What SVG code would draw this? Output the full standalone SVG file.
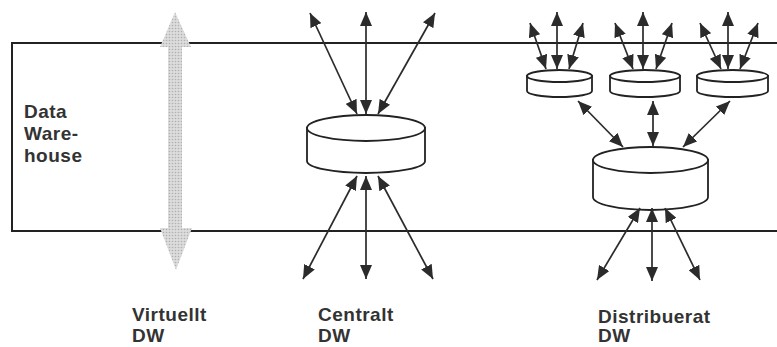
<svg xmlns="http://www.w3.org/2000/svg" width="777" height="347" viewBox="0 0 777 347">
<defs>
<marker id="ah" markerUnits="userSpaceOnUse" markerWidth="15" markerHeight="12" refX="14" refY="6" orient="auto-start-reverse" viewBox="0 0 15 12">
<path d="M0,0 L14,6 L0,12 z" fill="#2b2b2b"/>
</marker>
<pattern id="dots" width="3" height="3" patternUnits="userSpaceOnUse">
<rect width="3" height="3" fill="#dcdcdc"/>
<circle cx="1.5" cy="1.5" r="0.8" fill="#b0b0b0"/>
</pattern>
</defs>
<style>
.frame{fill:none;stroke:#222;stroke-width:2}
.cyl{fill:#fff;stroke:#222;stroke-width:1.8}
.con{stroke:#2b2b2b;stroke-width:1.7;fill:none;marker-start:url(#ah);marker-end:url(#ah)}
.lbl{font-family:"Liberation Sans",Arial,sans-serif;font-weight:bold;font-size:19px;fill:#333;letter-spacing:0.5px}
</style>
<rect width="777" height="347" fill="#fff"/>
<g id="datawarehouse">
<path class="frame" d="M777,43 H12 V231 H777"/>
<text class="lbl" x="24" y="118">Data</text>
<text class="lbl" x="24" y="140">Ware-</text>
<text class="lbl" x="24" y="162">house</text>
</g>
<g id="virtuellt">
<polygon fill="url(#dots)" points="175,12 191,47 182,47 182,228 192,228 176,270 160,228 168,228 168,47 160,47"/>
<text class="lbl" x="132" y="321">Virtuellt</text>
<text class="lbl" x="132" y="342">DW</text>
</g>
<g id="centralt">
<path class="cyl" d="M307,128 V161 A59,12 0 0 0 425,161 V128 z"/>
<ellipse class="cyl" cx="366" cy="128" rx="59" ry="13"/>
<text class="lbl" x="318" y="321">Centralt</text>
<text class="lbl" x="318" y="342">DW</text>
</g>
<g id="dist-small-1">
<path class="cyl" d="M527,76 V91 A32.5,6 0 0 0 592,91 V76 z"/>
<ellipse class="cyl" cx="559.5" cy="76" rx="32.5" ry="6"/>
</g>
<g id="dist-small-2">
<path class="cyl" d="M610,76 V91 A35,6 0 0 0 680,91 V76 z"/>
<ellipse class="cyl" cx="645" cy="76" rx="35" ry="6"/>
</g>
<g id="dist-small-3">
<path class="cyl" d="M697,76 V91 A35.5,6 0 0 0 768,91 V76 z"/>
<ellipse class="cyl" cx="732.5" cy="76" rx="35.5" ry="6"/>
</g>
<g id="dist-main">
<path class="cyl" d="M593,160 V197 A57.5,13 0 0 0 708,197 V160 z"/>
<ellipse class="cyl" cx="650.5" cy="160" rx="57.5" ry="13"/>
<text class="lbl" x="598" y="323">Distribuerat</text>
<text class="lbl" x="598" y="342">DW</text>
</g>
<g id="connectors">
<line class="con" x1="310" y1="13" x2="357" y2="114"/>
<line class="con" x1="366" y1="12" x2="366" y2="114"/>
<line class="con" x1="435" y1="13" x2="378" y2="114"/>
<line class="con" x1="357" y1="176" x2="303" y2="279"/>
<line class="con" x1="366" y1="176" x2="366" y2="279"/>
<line class="con" x1="378" y1="176" x2="433" y2="279"/>
<line class="con" x1="530" y1="23" x2="546" y2="69"/>
<line class="con" x1="557" y1="12" x2="557" y2="69"/>
<line class="con" x1="583" y1="23" x2="569" y2="69"/>
<line class="con" x1="615" y1="23" x2="633" y2="69"/>
<line class="con" x1="643" y1="12" x2="643" y2="69"/>
<line class="con" x1="672" y1="23" x2="656" y2="69"/>
<line class="con" x1="700" y1="23" x2="721" y2="69"/>
<line class="con" x1="728" y1="12" x2="728" y2="69"/>
<line class="con" x1="758" y1="23" x2="740" y2="69"/>
<line class="con" x1="578" y1="101" x2="623" y2="147"/>
<line class="con" x1="653" y1="101" x2="653" y2="146"/>
<line class="con" x1="730" y1="101" x2="683" y2="147"/>
<line class="con" x1="640" y1="208" x2="597" y2="280"/>
<line class="con" x1="652" y1="208" x2="652" y2="281"/>
<line class="con" x1="665" y1="208" x2="700" y2="280"/>
</g>
</svg>
